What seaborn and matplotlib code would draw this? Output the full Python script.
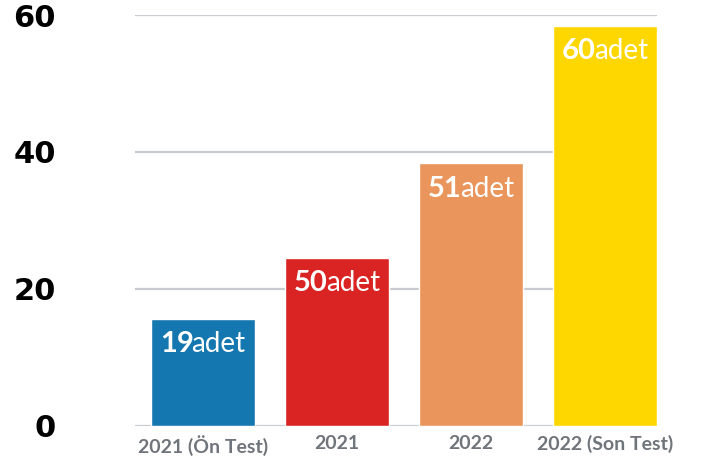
import matplotlib
matplotlib.use('Agg')
import matplotlib.pyplot as plt
from matplotlib.transforms import offset_copy
import seaborn as sns
import pandas as pd

# Data
categories = ['2021 (Ön Test)', '2021', '2022', '2022 (Son Test)']
bar_heights = [15.6, 24.5, 38.3, 58.4]
label_values = ['19', '50', '51', '60']
colors = ['#1577B0', '#DA2323', '#EA955C', '#FFD700']

df = pd.DataFrame({'category': categories, 'height': bar_heights})

sns.set_style('white')
plt.rcParams['font.family'] = ['Lato', 'DejaVu Sans']

fig = plt.figure(figsize=(7.04, 4.66), dpi=100)
ax = fig.add_axes([0.1918, 0.0869, 0.7412, 0.8809])

sns.barplot(data=df, x='category', y='height', hue='category',
            palette=colors, width=0.772, saturation=1, legend=False,
            ax=ax, zorder=3)

ax.set_ylim(0, 60)
ax.set_xlim(-0.505, 3.385)
ax.set_yticks([0, 20, 40, 60])
ax.yaxis.grid(True, color='#c8ccd0', linewidth=1.6, zorder=0)
ax.set_axisbelow(True)
for s in ax.spines.values():
    s.set_visible(False)
ax.set_xlabel('')
ax.set_ylabel('')

ax.tick_params(axis='y', length=0, pad=57)
ax.tick_params(axis='x', length=0, pad=7)
for t in ax.get_yticklabels():
    t.set_fontsize(22)
    t.set_fontweight('bold')
    t.set_family('DejaVu Sans')
    t.set_color('black')
for t in ax.get_xticklabels():
    t.set_fontsize(14)
    t.set_fontweight('bold')
    t.set_color('#6f757b')

# value labels inside the bars: bold number + regular "adet", centred together
KERN = -1.5  # points, tighten the gap after the number
fig.canvas.draw()
renderer = fig.canvas.get_renderer()
for i, (h, v) in enumerate(zip(bar_heights, label_values)):
    num = ax.text(i, h, v, color='white', fontsize=21, fontweight='bold',
                  ha='left', va='baseline', zorder=5)
    unit = ax.text(i, h, 'adet', color='white', fontsize=20,
                   ha='left', va='baseline', zorder=5)
    w_num = num.get_window_extent(renderer).width * 72 / fig.dpi + KERN
    w_unit = unit.get_window_extent(renderer).width * 72 / fig.dpi
    total = w_num + w_unit
    num.set_transform(offset_copy(ax.transData, fig=fig, x=-total / 2, y=-23.8, units='points'))
    unit.set_transform(offset_copy(ax.transData, fig=fig, x=-total / 2 + w_num, y=-23.8, units='points'))

plt.savefig('out.png', dpi=100)
